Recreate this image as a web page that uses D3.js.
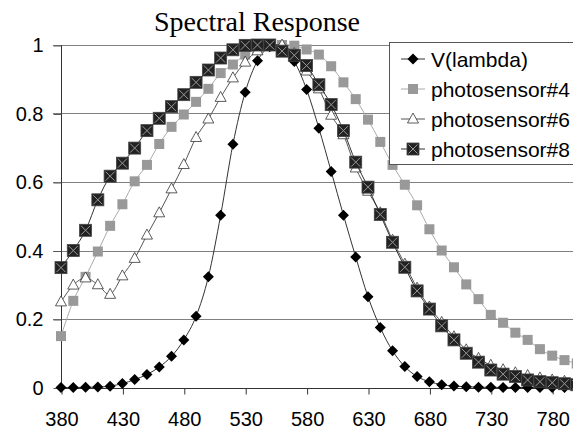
<!DOCTYPE html>
<html><head><meta charset="utf-8">
<script src="https://cdn.jsdelivr.net/npm/d3@7"></script>
<style>
html,body{margin:0;padding:0;background:#fff;}
svg{display:block;}
</style></head>
<body><svg id="c" width="573" height="430"></svg>
<script>
const wavelengths = [380,390,400,410,420,430,440,450,460,470,480,490,500,510,520,530,540,550,560,570,580,590,600,610,620,630,640,650,660,670,680,690,700,710,720,730,740,750,760,770,780,790,800];
const vLambda = [0.0000,0.0001,0.0004,0.0012,0.004,0.0116,0.023,0.038,0.06,0.091,0.139,0.208,0.323,0.503,0.71,0.862,0.954,0.995,0.995,0.952,0.87,0.757,0.631,0.503,0.381,0.265,0.175,0.107,0.061,0.032,0.017,0.0082,0.0041,0.0021,0.001,0.0005,0.00025,0.00012,0.00006,0.00003,0.000015,0.00001,0.0];
const photo4 = [0.15,0.253,0.323,0.397,0.472,0.535,0.602,0.65,0.711,0.761,0.797,0.834,0.872,0.918,0.943,0.972,0.99,1.0,1.0,0.998,0.987,0.972,0.938,0.891,0.842,0.782,0.717,0.65,0.592,0.532,0.462,0.4,0.351,0.301,0.258,0.212,0.189,0.16,0.139,0.112,0.093,0.08,0.07];
const photo6 = [0.25,0.299,0.32,0.3,0.272,0.326,0.377,0.445,0.51,0.58,0.651,0.73,0.784,0.847,0.904,0.95,0.983,0.997,1.0,0.975,0.924,0.872,0.795,0.738,0.641,0.573,0.51,0.43,0.36,0.29,0.235,0.19,0.148,0.11,0.085,0.065,0.052,0.043,0.035,0.028,0.022,0.018,0.015];
const photo8 = [0.35,0.4,0.459,0.548,0.617,0.655,0.699,0.75,0.786,0.82,0.855,0.891,0.927,0.962,0.986,0.999,1.0,1.0,0.982,0.97,0.94,0.884,0.826,0.75,0.658,0.585,0.505,0.424,0.351,0.282,0.229,0.18,0.139,0.1,0.074,0.051,0.039,0.032,0.022,0.017,0.014,0.011,0.008];
const seriesNames = ["V(lambda)","photosensor#4","photosensor#6","photosensor#8"];
const xTickValues = [380,430,480,530,580,630,680,730,780];
const yTickValues = [0,0.2,0.4,0.6,0.8,1];
const title = "Spectral Response";

(function(){
const svg = d3.select("#c");
const plotLeft = 61, plotBottom = 387.5, plotTop = 45;
const x = d3.scaleLinear().domain([380,800]).range([plotLeft, plotLeft + 420*1.228]);
const y = d3.scaleLinear().domain([0,1]).range([plotBottom, plotTop]);
const sansFont = "'Liberation Sans', Arial, sans-serif";

// title
svg.append("text").attr("x", 257).attr("y", 31).attr("text-anchor","middle")
  .attr("font-family","'Liberation Serif','Times New Roman',serif").attr("font-size",28)
  .attr("fill","#000").text(title);

// gridlines
svg.append("g").selectAll("line").data(yTickValues.filter(d=>d>0)).join("line")
  .attr("x1", plotLeft-8).attr("x2", 573).attr("y1", d=>Math.round(y(d))+0.5).attr("y2", d=>Math.round(y(d))+0.5)
  .attr("stroke","#808080").attr("stroke-width",1);

// y axis
const yAxis = d3.axisLeft(y).tickValues(yTickValues).tickSize(8).tickFormat(d3.format("~g"));
const gy = svg.append("g").attr("transform",`translate(${plotLeft+0.5},0.5)`).call(yAxis);
gy.select(".domain").attr("stroke","#333").attr("d",`M0,${plotTop-0.5}V${plotBottom}`);
gy.selectAll(".tick line").attr("stroke","#555");
gy.selectAll(".tick text").attr("font-family",sansFont).attr("font-size",20).attr("fill","#000").attr("x",-18);

// x axis
const xAxis = d3.axisBottom(x).tickValues(xTickValues).tickSize(6).tickSizeOuter(0);
const gx = svg.append("g").attr("transform",`translate(0.5,${Math.round(plotBottom)+0.5})`).call(xAxis);
gx.select(".domain").attr("stroke","#333").attr("d",`M${plotLeft},0H573`);
gx.selectAll(".tick line").attr("stroke","#333");
gx.selectAll(".tick text").attr("font-family",sansFont).attr("font-size",20).attr("fill","#000").attr("y",23);

const data = [vLambda, photo4, photo6, photo8];
const lineColors = ["#333","#aaa","#555","#333"];
const line = d3.line().x((d,i)=>x(wavelengths[i])).y(d=>y(d)).curve(d3.curveCardinal.tension(0));

function drawMarker(g, k, cx, cy){
  if(k===0){
    g.append("path").attr("d",`M${cx},${cy-5.5}L${cx+5.5},${cy}L${cx},${cy+5.5}L${cx-5.5},${cy}Z`).attr("fill","#000");
  } else if(k===1){
    g.append("rect").attr("x",cx-5).attr("y",cy-5).attr("width",10).attr("height",10).attr("fill","#999");
  } else if(k===2){
    g.append("path").attr("d",`M${cx},${cy-6}L${cx+5.5},${cy+4}L${cx-5.5},${cy+4}Z`).attr("fill","#fff").attr("stroke","#333").attr("stroke-width",0.8);
  } else {
    g.append("rect").attr("x",cx-6).attr("y",cy-6).attr("width",12).attr("height",12).attr("fill","#222").attr("stroke","#444").attr("stroke-width",0.8);
    g.append("path").attr("d",`M${cx-4.5},${cy-4.5}L${cx+4.5},${cy+4.5}M${cx+4.5},${cy-4.5}L${cx-4.5},${cy+4.5}`).attr("stroke","#999").attr("stroke-width",1);
  }
}

data.forEach((vals,k)=>{
  const g = svg.append("g");
  g.append("path").datum(vals).attr("d",line).attr("fill","none").attr("stroke",lineColors[k]).attr("stroke-width",1);
  vals.forEach((v,i)=>drawMarker(g,k,x(wavelengths[i]),y(v)));
});

// legend
const lg = svg.append("g");
lg.append("rect").attr("x",389.5).attr("y",42.5).attr("width",200).attr("height",122).attr("fill","#fff").attr("stroke","#555").attr("stroke-width",1);
seriesNames.forEach((name,k)=>{
  const cy = 59 + k*30;
  lg.append("line").attr("x1",401).attr("x2",425).attr("y1",cy).attr("y2",cy).attr("stroke",lineColors[k]).attr("stroke-width",1);
  drawMarker(lg,k,413,cy);
  lg.append("text").attr("x",431).attr("y",cy+7.5).attr("font-family",sansFont).attr("font-size",21).attr("fill","#000").text(name);
});
})();
</script></body></html>
